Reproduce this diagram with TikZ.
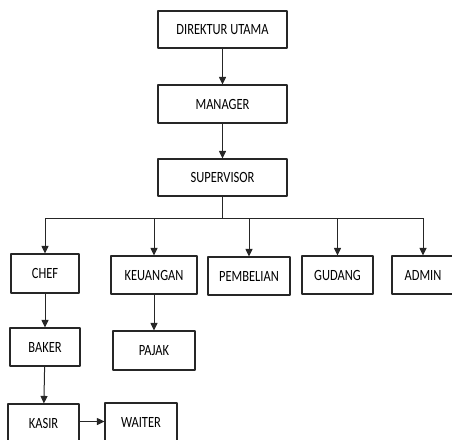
\documentclass[tikz,border=0pt]{standalone}
\usepackage{fontspec}
\setmainfont{Carlito}[FakeStretch=0.8]
\usetikzlibrary{arrows.meta}
\begin{document}
\begin{tikzpicture}[x=1pt, y=-1pt, font=\fontsize{15.6}{17}\selectfont, line join=round,
		box/.style={draw=black!85, line width=1.1pt, inner sep=0pt, minimum height=38pt},
		arr/.style={draw=black!85, line width=1pt, -{Triangle[width=7pt,length=7.5pt]}},
		lin/.style={draw=black!85, line width=1pt}]
	\def\busy{218} % garis cabang
	\useasboundingbox (0,0) rectangle (452,439);
	\clip (0,0) rectangle (452,439);
	\node[box, minimum width=129pt, minimum height=37pt] (dir) at (222.5,29.5) {DIREKTUR UTAMA};
	\node[box, minimum width=129pt] (man) at (222.5,104) {MANAGER};
	\node[box, minimum width=129pt, minimum height=37pt] (sup) at (222.5,177.5) {SUPERVISOR};
	\node[box, minimum width=68pt, minimum height=39pt] (chef) at (45,273.5) {CHEF};
	\node[box, minimum width=86pt] (keu) at (154,275) {KEUANGAN};
	\node[box, minimum width=82pt] (pem) at (249,276) {PEMBELIAN};
	\node[box, minimum width=71pt] (gud) at (337.5,275) {GUDANG};
	\node[box, minimum width=62pt] (adm) at (423,275) {ADMIN};
	\node[box, minimum width=70pt] (bak) at (45,347) {BAKER};
	\node[box, minimum width=82pt, minimum height=39pt] (paj) at (154,350.5) {PAJAK};
	\node[box, minimum width=71pt] (kas) at (43.5,423) {KASIR};
	\node[box, minimum width=72pt] (wai) at (141,422) {WAITER};
	\coordinate (bus) at (0,\busy);
	\draw[arr] (dir) -- (man);
	\draw[arr] (man) -- (sup);
	\draw[lin] (sup.south) -- (sup.south |- bus);
	\draw[lin] (chef.north |- bus) -- (adm.north |- bus);
	\foreach \n in {chef,keu,pem,gud,adm}
		\draw[arr] (\n.north |- bus) -- (\n.north);
	\draw[arr] (chef) -- (bak);
	\draw[arr] (keu) -- (paj);
	\draw[arr] (bak) -- (kas);
	\draw[arr] (kas.east |- 0,421.5) -- (wai.west |- 0,421.5);
\end{tikzpicture}
\end{document}
